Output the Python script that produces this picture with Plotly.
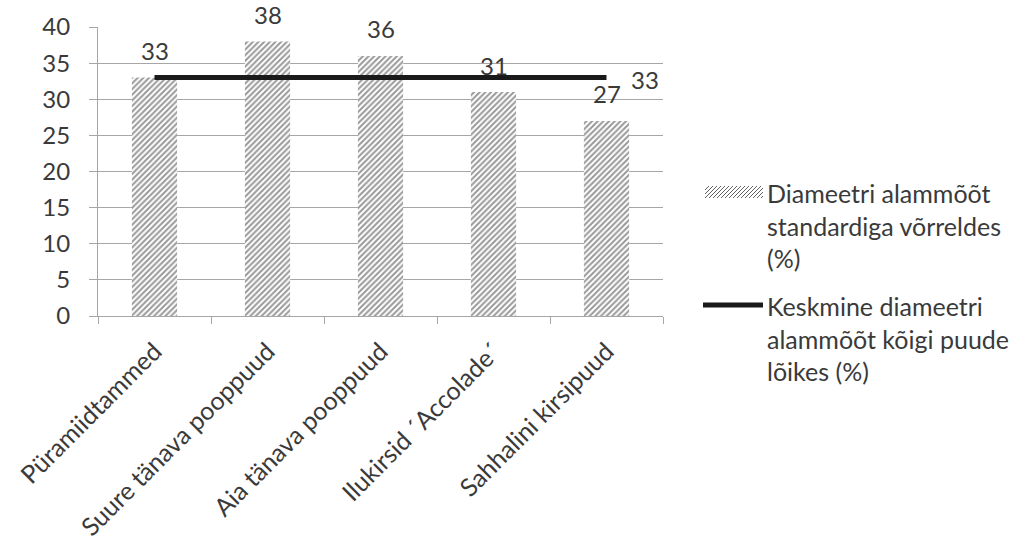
import plotly.graph_objects as go

categories = ["Püramiidtammed", "Suure tänava pooppuud", "Aia tänava pooppuud",
              "Ilukirsid ´Accolade´", "Sahhalini kirsipuud"]
bar_values = [33, 38, 36, 31, 27]
mean_values = [33, 33, 33, 33, 33]
bar_name = "Diameetri alammõõt<br>standardiga võrreldes<br>(%)"
line_name = "Keskmine diameetri<br>alammõõt kõigi puude<br>lõikes (%)"
y_ticks = [0, 5, 10, 15, 20, 25, 30, 35, 40]

W, H = 1029, 546
L, R, T, B = 98, 663, 27, 316
FONT = "Lato"
FS_NUM = 24
FS_TXT = 25
TXT = "#3a3a3a"
GRID = "#a6a6a6"

def px(x, y):
    return (x - L) / (R - L), (B - y) / (B - T)

fig = go.Figure()
fig.add_trace(go.Bar(
    x=categories, y=bar_values, width=0.4, name="bar",
    marker=dict(color="white", line=dict(width=0),
                pattern=dict(shape="/", size=4, solidity=0.5,
                             fgcolor="#333333", bgcolor="white")),
    showlegend=False,
))
fig.add_trace(go.Scatter(
    x=categories, y=mean_values, mode="lines", name="line",
    line=dict(color="#1a1a1a", width=5), showlegend=False,
))

annotations = []
for c, v in zip(categories, bar_values):
    annotations.append(dict(x=c, y=v, xref="x", yref="y", text=str(v),
                            showarrow=False, yanchor="middle", yshift=27,
                            font=dict(family=FONT, size=FS_NUM, color=TXT)))
annotations.append(dict(x=categories[-1], y=mean_values[-1], xref="x", yref="y",
                        text=str(mean_values[-1]), showarrow=False,
                        xanchor="left", yanchor="middle", xshift=22, yshift=-2,
                        font=dict(family=FONT, size=FS_NUM, color=TXT)))

# custom legend
shapes = []
sx0, sx1, sy0, sy1 = 705, 763, 186, 198
step = 4
h = sy1 - sy0
x = sx0 - h
while x < sx1:
    xa, ya = x, sy1
    xb, yb = x + h, sy0
    if xa < sx0:
        ya = sy1 - (sx0 - xa)
        xa = sx0
    if xb > sx1:
        yb = sy0 + (xb - sx1)
        xb = sx1
    p0 = px(xa, ya)
    p1 = px(xb, yb)
    shapes.append(dict(type="line", xref="paper", yref="paper",
                       x0=p0[0], y0=p0[1], x1=p1[0], y1=p1[1],
                       line=dict(color="#606060", width=1)))
    x += step
lp0 = px(703, 305)
lp1 = px(763, 305)
shapes.append(dict(type="line", xref="paper", yref="paper",
                   x0=lp0[0], y0=lp0[1], x1=lp1[0], y1=lp1[1],
                   line=dict(color="#1a1a1a", width=5)))

for name, y0 in ((bar_name, 176), (line_name, 289)):
    p = px(765, y0)
    annotations.append(dict(x=p[0], y=p[1], xref="paper", yref="paper", text=name,
                            showarrow=False, xanchor="left", yanchor="top",
                            align="left",
                            font=dict(family=FONT, size=FS_TXT, color=TXT)))

fig.update_layout(
    width=W, height=H,
    margin=dict(l=L, r=W - R, t=T, b=H - B, pad=0),
    paper_bgcolor="white", plot_bgcolor="white",
    font=dict(family=FONT, size=FS_NUM, color=TXT),
    annotations=annotations, shapes=shapes,
    bargap=0.6,
)
fig.update_yaxes(range=[0, 40], tickvals=y_ticks, showgrid=True, gridcolor=GRID,
                 gridwidth=1, showline=True, linecolor=GRID, linewidth=1,
                 ticks="outside", ticklen=8, tickcolor=GRID, zeroline=False,
                 ticklabelstandoff=14, automargin=False,
                 tickfont=dict(family=FONT, size=FS_NUM, color=TXT))
fig.update_xaxes(showline=True, linecolor=GRID, linewidth=1, ticks="outside",
                 tickson="boundaries", ticklen=7, tickcolor=GRID, tickangle=-45,
                 ticklabelstandoff=10, automargin=False,
                 tickfont=dict(family=FONT, size=FS_TXT, color=TXT))

fig.write_html("out.html")
